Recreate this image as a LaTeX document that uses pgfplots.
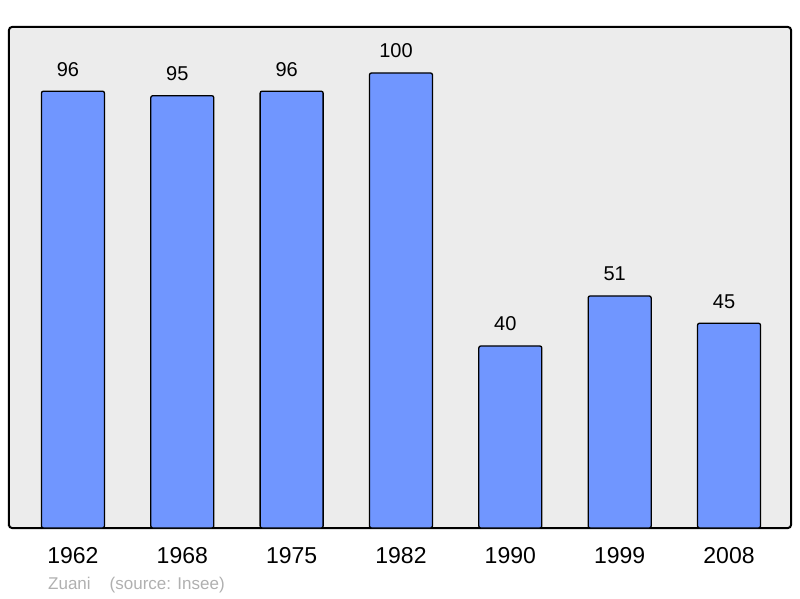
\documentclass[border=0pt]{standalone}
\usepackage{fontspec}
\setmainfont{Liberation Sans}
\usepackage{pgfplots}
\pgfplotsset{compat=1.18}
\definecolor{barblue}{RGB}{112,150,255}
\definecolor{bggray}{RGB}{236,236,236}
\definecolor{srcgray}{RGB}{176,176,176}
\begin{document}
\begin{tikzpicture}[x=1pt,y=1pt]
\path[use as bounding box] (0,0) rectangle (800,598);
\begin{axis}[
  at={(9pt,70pt)}, anchor=south west,
  scale only axis, width=782pt, height=501pt,
  xmin=-0.585, xmax=6.567, ymin=0, ymax=110.1,
  axis background/.style={fill=bggray},
  axis line style={line width=2pt, rounded corners=3pt},
  ybar, bar width=63pt,
  xtick=data,
  xticklabels={1962,1968,1975,1982,1990,1999,2008},
  ytick=\empty,
  major tick length=0pt,
  /pgf/number format/assume math mode=true,
  xticklabel style={anchor=center, yshift=-28pt, font=\fontsize{23}{23}\selectfont},
  nodes near coords,
  every node near coord/.append style={anchor=center, yshift=22pt, xshift=-5pt, font=\fontsize{20}{20}\selectfont, text=black},
  clip=false,
]
\addplot[fill=barblue, draw=black, line width=1.3pt, rounded corners=2pt] coordinates {(0,96) (1,95) (2,96) (3,100) (4,40) (5,51) (6,45)};
\end{axis}
\node[anchor=base west, text=srcgray, font=\fontsize{17}{17}\selectfont, inner sep=0pt] at (48,9) {Zuani\hspace{19pt}(source: Insee)};
\end{tikzpicture}
\end{document}
